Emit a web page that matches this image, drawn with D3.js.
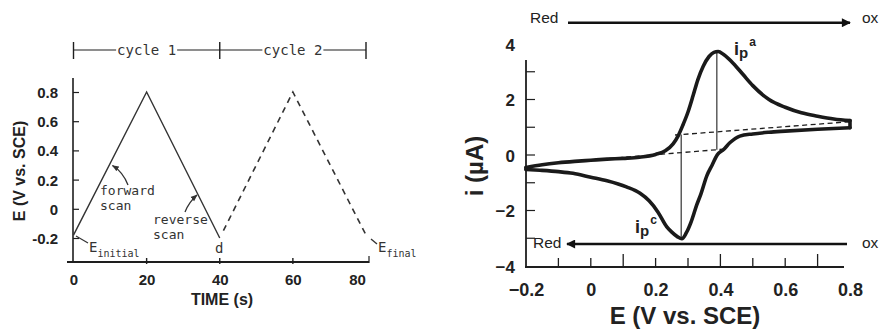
<!DOCTYPE html>
<html><head><meta charset="utf-8">
<script src="https://cdn.jsdelivr.net/npm/d3@7"></script>
<style>
body{margin:0;background:#fff;}
svg{display:block;}
.num{font-family:"Liberation Sans",Arial,sans-serif;font-weight:bold;fill:#222;}
.hand{font-family:"DejaVu Sans Mono",monospace;fill:#333;}
</style></head>
<body>
<svg id="c" width="881" height="330"></svg>
<script>
// ---------- data: left panel (potential waveform) ----------
const timeTicks = [0, 20, 40, 60, 80];
const potTicks = [-0.2, 0, 0.2, 0.4, 0.6, 0.8];
const potTickLabels = ["-0.2", "0", "0.2", "0.4", "0.6", "0.8"];
const cycle1Time = [0, 20, 40];
const cycle1E = [-0.18, 0.8, -0.2];
const cycle2Time = [41, 60, 80];
const cycle2E = [-0.15, 0.8, -0.18];
const cycleLabels = ["cycle 1", "cycle 2"];

// ---------- data: right panel (cyclic voltammogram) ----------
const eTicks = [-0.2, 0, 0.2, 0.4, 0.6, 0.8];
const eMinorTicks = [-0.1, 0, 0.1, 0.2, 0.3, 0.4, 0.5, 0.6, 0.7];
const iTickLabels = [-4, -2, 0, 2, 4];
const iMinorTicks = [-3, -2, -1, 0, 1, 2, 3];
const fwdE = [-0.2,-0.15,-0.1,-0.05,0.0,0.05,0.1,0.15,0.2,0.23,0.254,0.27,0.285,0.3,0.316,0.33,0.347,0.365,0.38,0.393,0.41,0.44,0.47,0.5,0.55,0.6,0.65,0.7,0.75,0.8];
const fwdI = [-0.45,-0.35,-0.28,-0.23,-0.19,-0.15,-0.12,-0.08,0.02,0.15,0.4,0.7,1.1,1.55,2.15,2.7,3.2,3.55,3.7,3.73,3.62,3.3,2.9,2.5,2.0,1.72,1.52,1.4,1.3,1.24];
const revE = [0.8,0.7,0.6,0.55,0.5,0.46,0.43,0.41,0.39,0.375,0.358,0.34,0.327,0.31,0.295,0.281,0.268,0.25,0.234,0.207,0.18,0.152,0.11,0.05,0.0,-0.055,-0.1,-0.157,-0.2];
const revI = [0.98,0.93,0.86,0.82,0.76,0.68,0.45,0.2,0.0,-0.35,-0.75,-1.4,-1.8,-2.4,-2.8,-3.02,-2.95,-2.78,-2.58,-2.05,-1.65,-1.38,-1.15,-0.93,-0.8,-0.66,-0.6,-0.55,-0.52];
const baseLowE = [-0.126, 0.42];
const baseLowI = [-0.3, 0.22];
const baseHighE = [0.26, 0.8];
const baseHighI = [0.72, 1.2];
const peakAE = 0.389, peakAI = [3.72, 0.19];
const peakCE = 0.279, peakCI = [-3.02, 0.74];

const svg = d3.select("#c");
const ink = "#1e1e1e";

// ================= LEFT PANEL =================
const xL = d3.scaleLinear().domain([0, 80]).range([73.5, 366]);
const yL = d3.scaleLinear().domain([-0.2, 0.8]).range([238, 92]);
const L = svg.append("g");

L.append("line").attr("x1", 73).attr("x2", 73).attr("y1", 78).attr("y2", 262).attr("stroke", ink).attr("stroke-width", 1.6);
L.append("line").attr("x1", 67).attr("x2", 369).attr("y1", 262).attr("y2", 262).attr("stroke", ink).attr("stroke-width", 1.8);
L.append("line").attr("x1", 369).attr("x2", 369).attr("y1", 256).attr("y2", 263).attr("stroke", ink).attr("stroke-width", 1.2);

const gLyT = L.append("g").attr("transform", "translate(73,0)")
  .call(d3.axisRight(yL).tickValues(potTicks).tickSize(6).tickFormat(""));
gLyT.select(".domain").remove();
gLyT.selectAll(".tick line").attr("stroke", ink).attr("stroke-width", 1.2);
const gLy = L.append("g").attr("transform", "translate(73,0)")
  .call(d3.axisLeft(yL).tickValues(potTicks).tickSize(0).tickPadding(15)
    .tickFormat((d, i) => potTickLabels[i]));
gLy.select(".domain").remove();
gLy.selectAll("text").attr("class", "num").style("font-size", "15px").attr("dy", "0.36em");

L.selectAll(".xlt").data(timeTicks.slice(1, 4)).join("line")
  .attr("x1", d => xL(d)).attr("x2", d => xL(d)).attr("y1", 258).attr("y2", 264)
  .attr("stroke", ink).attr("stroke-width", 1.4);
const gLx = L.append("g").attr("transform", "translate(0,262)")
  .call(d3.axisBottom(xL).tickValues(timeTicks).tickSize(0).tickPadding(12).tickFormat(d3.format("d")));
gLx.select(".domain").remove();
gLx.selectAll("text").attr("class", "num").style("font-size", "15px")
  .attr("dx", d => d === 80 ? -9 : 0);

L.append("text").attr("class", "num").style("font-size", "16px")
  .attr("text-anchor", "middle").attr("transform", "translate(25,171) rotate(-90)")
  .text("E (V vs. SCE)");
L.append("text").attr("class", "num").style("font-size", "16px")
  .attr("text-anchor", "middle").attr("x", 222).attr("y", 305).text("TIME (s)");

const lineL = d3.line().x(d => xL(d[0])).y(d => yL(d[1]));
L.append("path").datum(cycle1Time.map((t, i) => [t, cycle1E[i]]))
  .attr("d", lineL).attr("fill", "none").attr("stroke", "#333").attr("stroke-width", 1.4);
L.append("path").datum(cycle2Time.map((t, i) => [t, cycle2E[i]]))
  .attr("d", lineL).attr("fill", "none").attr("stroke", "#333").attr("stroke-width", 1.6)
  .attr("stroke-dasharray", "6,5");

const cyc = L.append("g");
[0, 40, 80].forEach(t => {
  cyc.append("line").attr("x1", xL(t)).attr("x2", xL(t)).attr("y1", 42).attr("y2", 59)
    .attr("stroke", ink).attr("stroke-width", 1.4);
});
cycleLabels.forEach((lab, k) => {
  const t0 = k * 40, t1 = t0 + 40, tc = t0 + 20;
  const tx = cyc.append("text").attr("class", "hand").style("font-size", "14px")
    .attr("text-anchor", "middle").attr("x", xL(tc)).attr("y", 55).text(lab);
  const w = tx.node().getComputedTextLength();
  cyc.append("line").attr("x1", xL(t0)).attr("x2", xL(tc) - w / 2 - 1).attr("y1", 50).attr("y2", 50)
    .attr("stroke", ink).attr("stroke-width", 1.2);
  cyc.append("line").attr("x1", xL(tc) + w / 2 + 1).attr("x2", xL(t1)).attr("y1", 50).attr("y2", 50)
    .attr("stroke", ink).attr("stroke-width", 1.2);
});

const defs = svg.append("defs");
defs.append("marker").attr("id", "ah").attr("viewBox", "0 0 10 10").attr("refX", 9).attr("refY", 5)
  .attr("markerWidth", 7).attr("markerHeight", 7).attr("orient", "auto-start-reverse")
  .attr("markerUnits", "userSpaceOnUse")
  .append("path").attr("d", "M0,1 L10,5 L0,9 z").attr("fill", "#333");

const ann = L.append("g");
function twoLine(x, y1, y2, a, b) {
  ann.append("text").attr("class", "hand").style("font-size", "13px").attr("x", x).attr("y", y1).text(a);
  ann.append("text").attr("class", "hand").style("font-size", "13px").attr("x", x).attr("y", y2).text(b);
}
twoLine(100, 195, 210, "forward", "scan");
twoLine(153, 224, 239, "reverse", "scan");
ann.append("text").attr("class", "hand").style("font-size", "14px").attr("x", 215).attr("y", 253).text("d");
ann.append("path").attr("d", "M128,185 Q123,172 112.5,165.5").attr("fill", "none")
  .attr("stroke", "#333").attr("stroke-width", 1.3).attr("marker-end", "url(#ah)");
ann.append("path").attr("d", "M185,212 Q189,202 197,195").attr("fill", "none")
  .attr("stroke", "#333").attr("stroke-width", 1.3).attr("marker-end", "url(#ah)");
ann.append("line").attr("x1", 76).attr("y1", 236).attr("x2", 88).attr("y2", 243).attr("stroke", "#333").attr("stroke-width", 1.2);
{
  const t = ann.append("text").attr("class", "hand").attr("x", 89).attr("y", 252);
  t.append("tspan").style("font-size", "14px").text("E");
  t.append("tspan").style("font-size", "10px").attr("dy", 5).text("initial");
}
ann.append("line").attr("x1", 371).attr("y1", 239).attr("x2", 377).attr("y2", 244).attr("stroke", "#333").attr("stroke-width", 1.4);
{
  const t = ann.append("text").attr("class", "hand").attr("x", 378).attr("y", 252);
  t.append("tspan").style("font-size", "14px").text("E");
  t.append("tspan").style("font-size", "10px").attr("dy", 5).text("final");
}

// ================= RIGHT PANEL =================
const xR = d3.scaleLinear().domain([-0.2, 0.8]).range([526, 850]);
const yR = d3.scaleLinear().domain([-4, 4]).range([266, 44]);
const R = svg.append("g");

R.append("line").attr("x1", 526).attr("x2", 526).attr("y1", 60).attr("y2", 267.5).attr("stroke", ink).attr("stroke-width", 1.8);
R.append("line").attr("x1", 525).attr("x2", 844).attr("y1", 267).attr("y2", 267).attr("stroke", ink).attr("stroke-width", 1.8);

R.selectAll(".yrt").data(iMinorTicks).join("line")
  .attr("x1", 526).attr("x2", 535).attr("y1", d => yR(d)).attr("y2", d => yR(d))
  .attr("stroke", ink).attr("stroke-width", 1.2);
const gRy = R.append("g").attr("transform", "translate(526,0)")
  .call(d3.axisLeft(yR).tickValues(iTickLabels).tickSize(0).tickPadding(11).tickFormat(d3.format("d")));
gRy.select(".domain").remove();
gRy.selectAll("text").attr("class", "num").style("font-size", "17px").attr("dy", "0.36em");

R.selectAll(".xrt").data(eMinorTicks).join("line")
  .attr("x1", d => xR(d)).attr("x2", d => xR(d)).attr("y1", 267)
  .attr("y2", (d, i) => i % 3 === 2 ? 254 : 258)
  .attr("stroke", ink).attr("stroke-width", 1.3);
const gRx = R.append("g").attr("transform", "translate(0,267)")
  .call(d3.axisBottom(xR).tickValues(eTicks).tickSize(0).tickPadding(16).tickFormat(d => d === 0 ? "0" : d3.format(".1f")(d)));
gRx.select(".domain").remove();
gRx.selectAll("text").attr("class", "num").style("font-size", "18px");

R.append("text").attr("class", "num").style("font-size", "24px").attr("text-anchor", "middle")
  .attr("transform", "translate(483,166) rotate(-90)").text("i (µA)");
R.append("text").attr("class", "num").style("font-size", "24px").attr("text-anchor", "middle")
  .attr("x", 685).attr("y", 324).text("E (V vs. SCE)");

const lineR = d3.line().x(d => xR(d[0])).y(d => yR(d[1]));
R.append("path").datum(baseLowE.map((e, i) => [e, baseLowI[i]])).attr("d", lineR)
  .attr("fill", "none").attr("stroke", ink).attr("stroke-width", 1.3).attr("stroke-dasharray", "5,3.5");
R.append("path").datum(baseHighE.map((e, i) => [e, baseHighI[i]])).attr("d", lineR)
  .attr("fill", "none").attr("stroke", ink).attr("stroke-width", 1.3).attr("stroke-dasharray", "5,3.5");

R.append("line").attr("x1", xR(peakAE)).attr("x2", xR(peakAE)).attr("y1", yR(peakAI[0])).attr("y2", yR(peakAI[1]))
  .attr("stroke", "#333").attr("stroke-width", 1.2);
R.append("line").attr("x1", xR(peakCE)).attr("x2", xR(peakCE)).attr("y1", yR(peakCI[0])).attr("y2", yR(peakCI[1]))
  .attr("stroke", "#333").attr("stroke-width", 1.2);

const cvLine = d3.line().x(d => xR(d[0])).y(d => yR(d[1])).curve(d3.curveMonotoneX);
const fwdPts = fwdE.map((e, i) => [e, fwdI[i]]);
const revPts = revE.map((e, i) => [e, revI[i]]).reverse();
const cvStyle = sel => sel.attr("fill", "none").attr("stroke", "#1a1a1a").attr("stroke-width", 3.6)
  .attr("stroke-linejoin", "round").attr("stroke-linecap", "round");
R.append("path").datum(fwdPts).attr("d", cvLine).call(cvStyle);
R.append("path").datum(revPts).attr("d", cvLine).call(cvStyle);
R.append("path").datum([fwdPts[fwdPts.length - 1], revPts[revPts.length - 1]]).attr("d", lineR).call(cvStyle);
R.append("path").datum([fwdPts[0], revPts[0]]).attr("d", lineR).call(cvStyle);

function peakLabel(x, y, sup) {
  const t = R.append("text").attr("class", "num").attr("x", x).attr("y", y);
  t.append("tspan").style("font-size", "18px").text("i");
  t.append("tspan").style("font-size", "15px").attr("dy", 3).text("p");
  t.append("tspan").style("font-size", "12px").attr("dy", -12).attr("dx", 1).text(sup);
}
peakLabel(734, 55, "a");
peakLabel(635, 233, "c");

defs.append("marker").attr("id", "bh").attr("viewBox", "0 0 10 10").attr("refX", 9).attr("refY", 5)
  .attr("markerWidth", 11).attr("markerHeight", 9).attr("orient", "auto-start-reverse")
  .attr("markerUnits", "userSpaceOnUse")
  .append("path").attr("d", "M0,0 L10,5 L0,10 z").attr("fill", "#111");
R.append("line").attr("x1", 568).attr("x2", 850).attr("y1", 22.7).attr("y2", 22.7)
  .attr("stroke", "#111").attr("stroke-width", 2.4).attr("marker-end", "url(#bh)");
R.append("line").attr("x1", 847).attr("x2", 567).attr("y1", 244).attr("y2", 244)
  .attr("stroke", "#111").attr("stroke-width", 2.4).attr("marker-end", "url(#bh)");
[["Red", 530, 23], ["ox", 862, 23], ["Red", 533, 248], ["ox", 862, 248]].forEach(([s, x, y]) => {
  R.append("text").attr("x", x).attr("y", y).style("font-family", "Liberation Sans, Arial, sans-serif")
    .style("font-size", "15.5px").attr("fill", "#222").text(s);
});
</script>
</body></html>
